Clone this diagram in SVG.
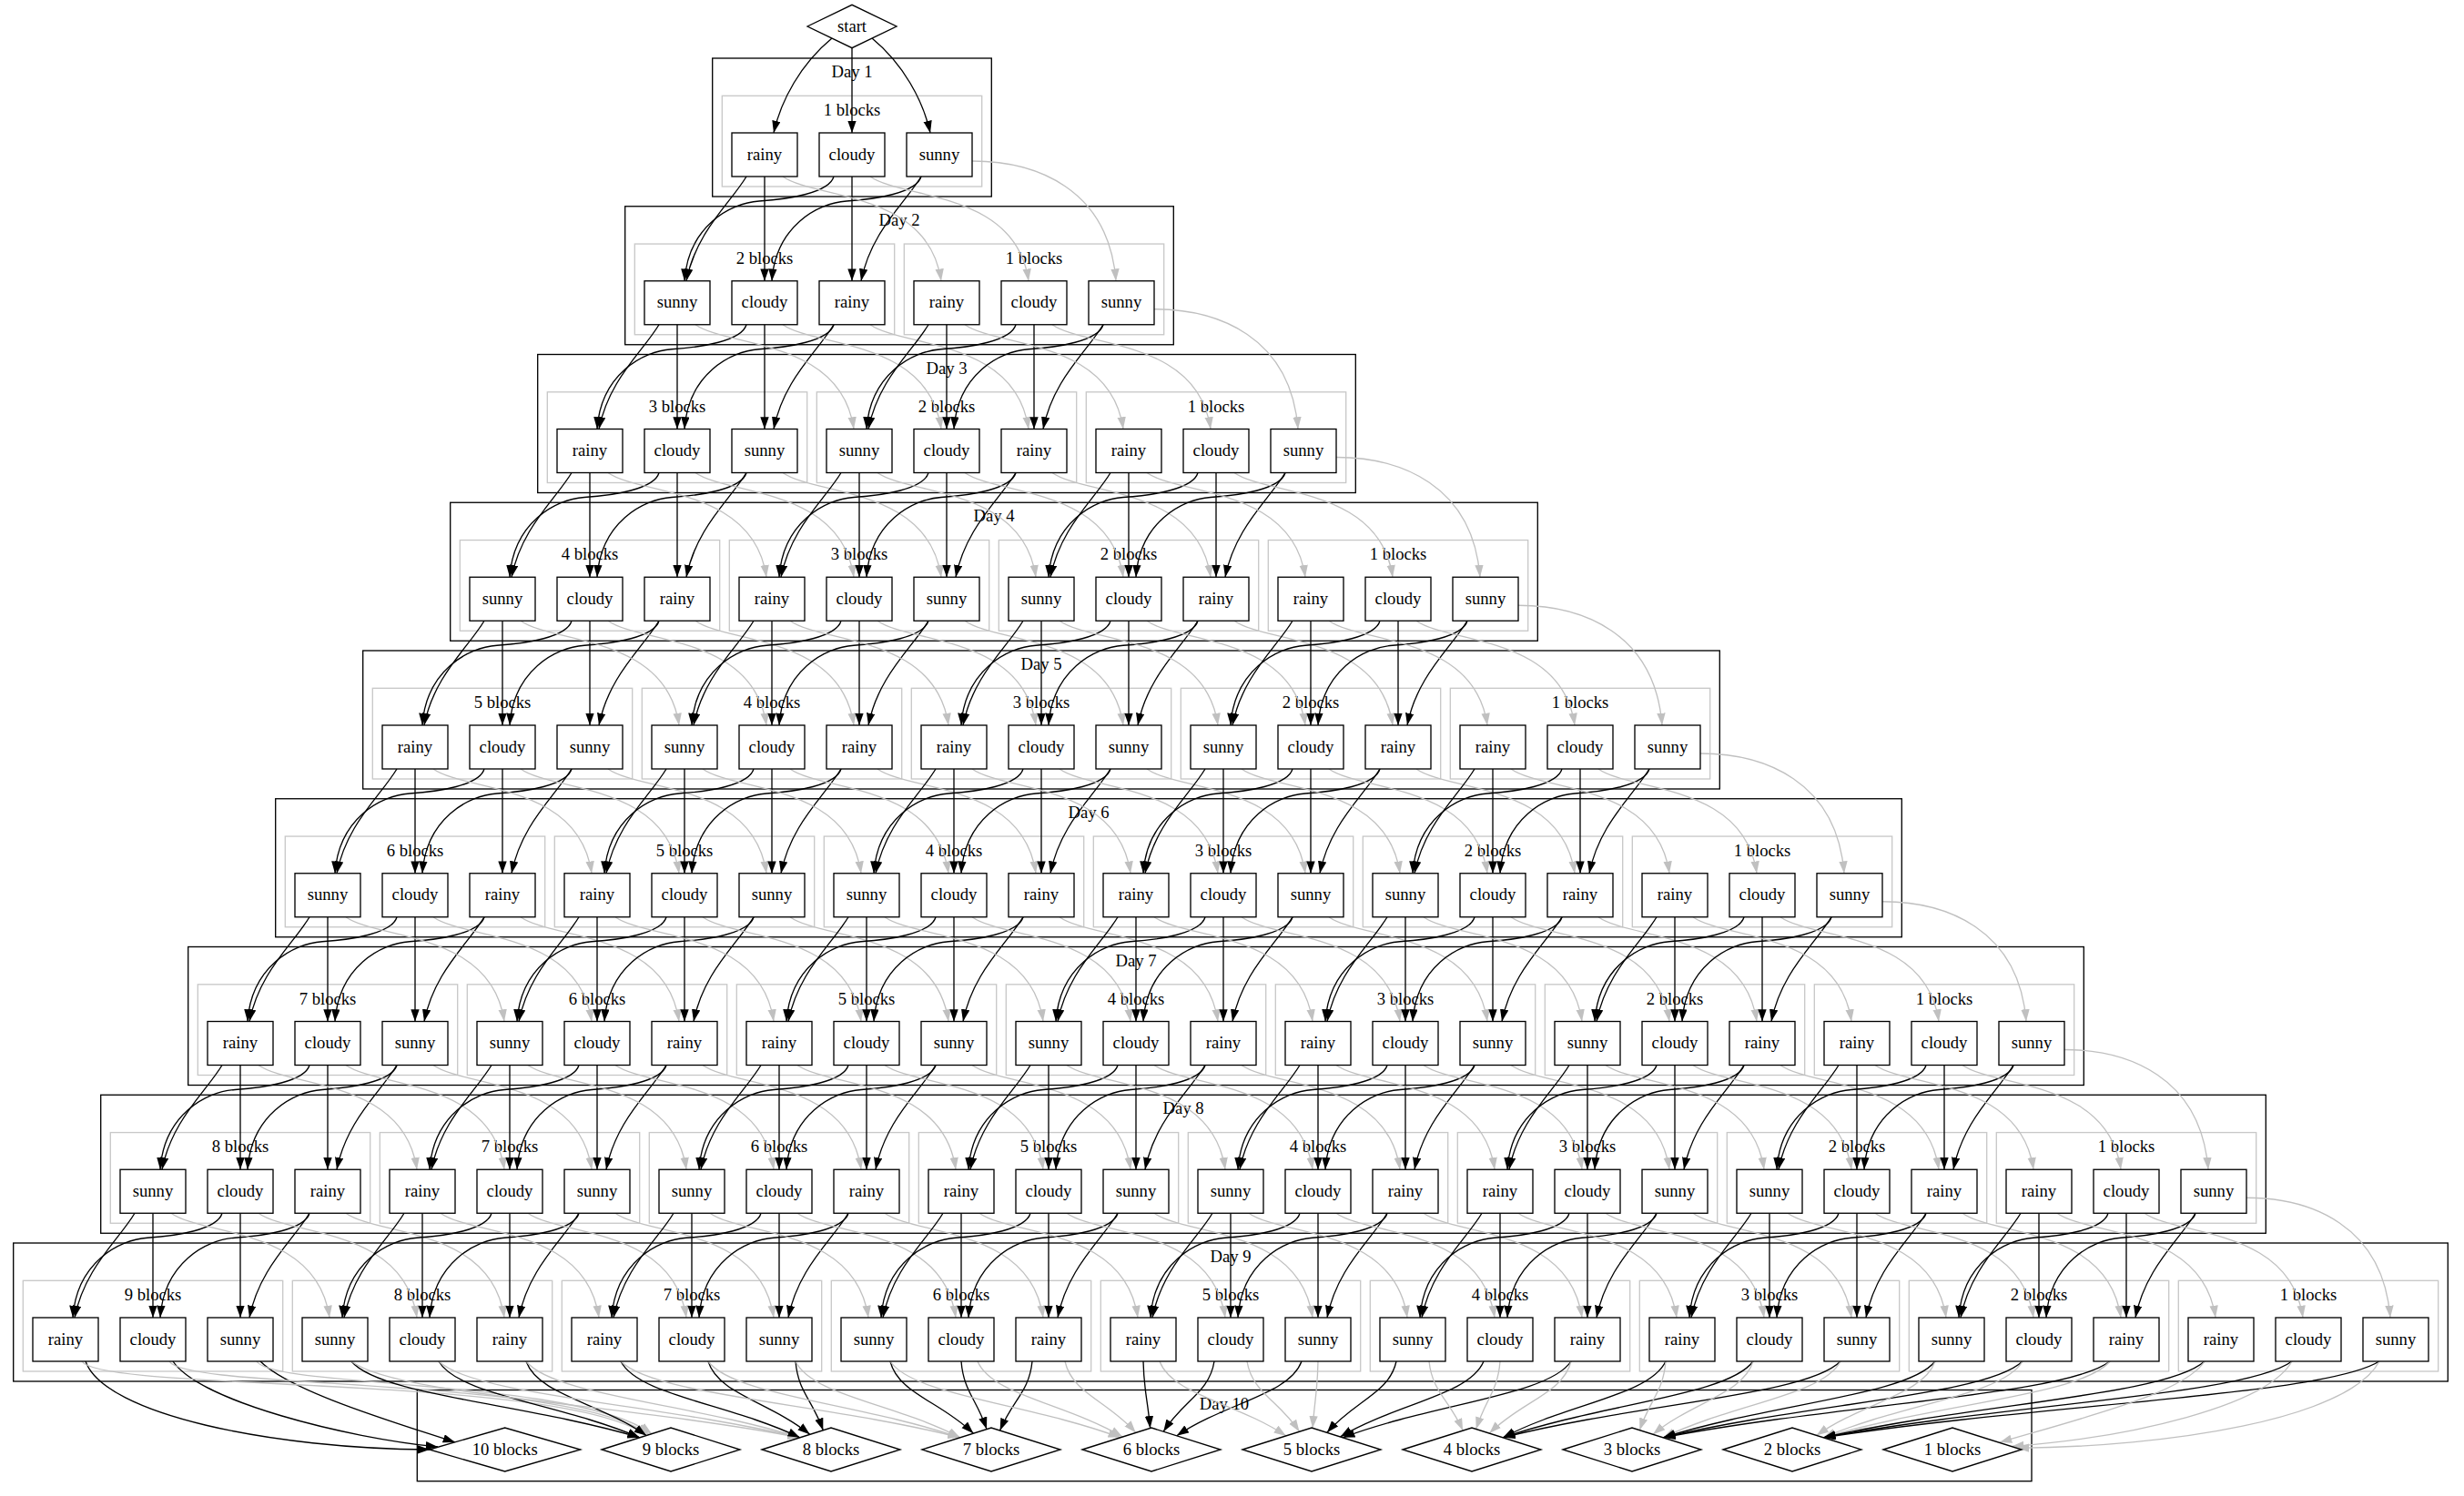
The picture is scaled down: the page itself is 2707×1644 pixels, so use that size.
<svg xmlns="http://www.w3.org/2000/svg" width="2707" height="1644" viewBox="0 0 2707 1644">
<defs>
<style>
.cl{fill:none;stroke:#000;stroke-width:1.33}
.sc{fill:none;stroke:#c8c8c8;stroke-width:1.33}
.nd rect,.nd polygon{fill:#fff;stroke:#000;stroke-width:1.33}
text{font-family:"Liberation Serif","Times New Roman",serif;font-size:18.67px;text-anchor:middle;fill:#000}
.b{fill:none;stroke:#000;stroke-width:1.33;marker-end:url(#ab)}
.g{fill:none;stroke:#c0c0c0;stroke-width:1.33;marker-end:url(#ag)}
</style>
<marker id="ab" markerUnits="userSpaceOnUse" markerWidth="15" markerHeight="11" refX="13.3" refY="4.7" orient="auto"><path d="M0,0L13.3,4.7L0,9.4z" fill="#000"/></marker>
<marker id="ag" markerUnits="userSpaceOnUse" markerWidth="15" markerHeight="11" refX="13.3" refY="4.7" orient="auto"><path d="M0,0L13.3,4.7L0,9.4z" fill="#c0c0c0"/></marker>
</defs>
<rect width="2707" height="1644" fill="#fff"/>
<g id="clusters">
<g id="day1"><rect class="cl" x="782.7" y="64" width="306.6" height="152"/><text x="936" y="85">Day 1</text>
<g id="d1-b1"><rect class="sc" x="793.3" y="105.3" width="285.4" height="99.7"/><text x="936" y="127">1 blocks</text></g></g>
<g id="day2"><rect class="cl" x="686.7" y="226.75" width="602.6" height="152"/><text x="988" y="247.75">Day 2</text>
<g id="d2-b2"><rect class="sc" x="697.3" y="268.05" width="285.4" height="99.7"/><text x="840" y="289.75">2 blocks</text></g>
<g id="d2-b1"><rect class="sc" x="993.3" y="268.05" width="285.4" height="99.7"/><text x="1136" y="289.75">1 blocks</text></g></g>
<g id="day3"><rect class="cl" x="590.7" y="389.5" width="898.6" height="152"/><text x="1040" y="410.5">Day 3</text>
<g id="d3-b3"><rect class="sc" x="601.3" y="430.8" width="285.4" height="99.7"/><text x="744" y="452.5">3 blocks</text></g>
<g id="d3-b2"><rect class="sc" x="897.3" y="430.8" width="285.4" height="99.7"/><text x="1040" y="452.5">2 blocks</text></g>
<g id="d3-b1"><rect class="sc" x="1193.3" y="430.8" width="285.4" height="99.7"/><text x="1336" y="452.5">1 blocks</text></g></g>
<g id="day4"><rect class="cl" x="494.7" y="552.25" width="1194.6" height="152"/><text x="1092" y="573.25">Day 4</text>
<g id="d4-b4"><rect class="sc" x="505.3" y="593.55" width="285.4" height="99.7"/><text x="648" y="615.25">4 blocks</text></g>
<g id="d4-b3"><rect class="sc" x="801.3" y="593.55" width="285.4" height="99.7"/><text x="944" y="615.25">3 blocks</text></g>
<g id="d4-b2"><rect class="sc" x="1097.3" y="593.55" width="285.4" height="99.7"/><text x="1240" y="615.25">2 blocks</text></g>
<g id="d4-b1"><rect class="sc" x="1393.3" y="593.55" width="285.4" height="99.7"/><text x="1536" y="615.25">1 blocks</text></g></g>
<g id="day5"><rect class="cl" x="398.7" y="715" width="1490.6" height="152"/><text x="1144" y="736">Day 5</text>
<g id="d5-b5"><rect class="sc" x="409.3" y="756.3" width="285.4" height="99.7"/><text x="552" y="778">5 blocks</text></g>
<g id="d5-b4"><rect class="sc" x="705.3" y="756.3" width="285.4" height="99.7"/><text x="848" y="778">4 blocks</text></g>
<g id="d5-b3"><rect class="sc" x="1001.3" y="756.3" width="285.4" height="99.7"/><text x="1144" y="778">3 blocks</text></g>
<g id="d5-b2"><rect class="sc" x="1297.3" y="756.3" width="285.4" height="99.7"/><text x="1440" y="778">2 blocks</text></g>
<g id="d5-b1"><rect class="sc" x="1593.3" y="756.3" width="285.4" height="99.7"/><text x="1736" y="778">1 blocks</text></g></g>
<g id="day6"><rect class="cl" x="302.7" y="877.75" width="1786.6" height="152"/><text x="1196" y="898.75">Day 6</text>
<g id="d6-b6"><rect class="sc" x="313.3" y="919.05" width="285.4" height="99.7"/><text x="456" y="940.75">6 blocks</text></g>
<g id="d6-b5"><rect class="sc" x="609.3" y="919.05" width="285.4" height="99.7"/><text x="752" y="940.75">5 blocks</text></g>
<g id="d6-b4"><rect class="sc" x="905.3" y="919.05" width="285.4" height="99.7"/><text x="1048" y="940.75">4 blocks</text></g>
<g id="d6-b3"><rect class="sc" x="1201.3" y="919.05" width="285.4" height="99.7"/><text x="1344" y="940.75">3 blocks</text></g>
<g id="d6-b2"><rect class="sc" x="1497.3" y="919.05" width="285.4" height="99.7"/><text x="1640" y="940.75">2 blocks</text></g>
<g id="d6-b1"><rect class="sc" x="1793.3" y="919.05" width="285.4" height="99.7"/><text x="1936" y="940.75">1 blocks</text></g></g>
<g id="day7"><rect class="cl" x="206.7" y="1040.5" width="2082.6" height="152"/><text x="1248" y="1061.5">Day 7</text>
<g id="d7-b7"><rect class="sc" x="217.3" y="1081.8" width="285.4" height="99.7"/><text x="360" y="1103.5">7 blocks</text></g>
<g id="d7-b6"><rect class="sc" x="513.3" y="1081.8" width="285.4" height="99.7"/><text x="656" y="1103.5">6 blocks</text></g>
<g id="d7-b5"><rect class="sc" x="809.3" y="1081.8" width="285.4" height="99.7"/><text x="952" y="1103.5">5 blocks</text></g>
<g id="d7-b4"><rect class="sc" x="1105.3" y="1081.8" width="285.4" height="99.7"/><text x="1248" y="1103.5">4 blocks</text></g>
<g id="d7-b3"><rect class="sc" x="1401.3" y="1081.8" width="285.4" height="99.7"/><text x="1544" y="1103.5">3 blocks</text></g>
<g id="d7-b2"><rect class="sc" x="1697.3" y="1081.8" width="285.4" height="99.7"/><text x="1840" y="1103.5">2 blocks</text></g>
<g id="d7-b1"><rect class="sc" x="1993.3" y="1081.8" width="285.4" height="99.7"/><text x="2136" y="1103.5">1 blocks</text></g></g>
<g id="day8"><rect class="cl" x="110.7" y="1203.25" width="2378.6" height="152"/><text x="1300" y="1224.25">Day 8</text>
<g id="d8-b8"><rect class="sc" x="121.3" y="1244.55" width="285.4" height="99.7"/><text x="264" y="1266.25">8 blocks</text></g>
<g id="d8-b7"><rect class="sc" x="417.3" y="1244.55" width="285.4" height="99.7"/><text x="560" y="1266.25">7 blocks</text></g>
<g id="d8-b6"><rect class="sc" x="713.3" y="1244.55" width="285.4" height="99.7"/><text x="856" y="1266.25">6 blocks</text></g>
<g id="d8-b5"><rect class="sc" x="1009.3" y="1244.55" width="285.4" height="99.7"/><text x="1152" y="1266.25">5 blocks</text></g>
<g id="d8-b4"><rect class="sc" x="1305.3" y="1244.55" width="285.4" height="99.7"/><text x="1448" y="1266.25">4 blocks</text></g>
<g id="d8-b3"><rect class="sc" x="1601.3" y="1244.55" width="285.4" height="99.7"/><text x="1744" y="1266.25">3 blocks</text></g>
<g id="d8-b2"><rect class="sc" x="1897.3" y="1244.55" width="285.4" height="99.7"/><text x="2040" y="1266.25">2 blocks</text></g>
<g id="d8-b1"><rect class="sc" x="2193.3" y="1244.55" width="285.4" height="99.7"/><text x="2336" y="1266.25">1 blocks</text></g></g>
<g id="day9"><rect class="cl" x="14.7" y="1366" width="2674.6" height="152"/><text x="1352" y="1387">Day 9</text>
<g id="d9-b9"><rect class="sc" x="25.3" y="1407.3" width="285.4" height="99.7"/><text x="168" y="1429">9 blocks</text></g>
<g id="d9-b8"><rect class="sc" x="321.3" y="1407.3" width="285.4" height="99.7"/><text x="464" y="1429">8 blocks</text></g>
<g id="d9-b7"><rect class="sc" x="617.3" y="1407.3" width="285.4" height="99.7"/><text x="760" y="1429">7 blocks</text></g>
<g id="d9-b6"><rect class="sc" x="913.3" y="1407.3" width="285.4" height="99.7"/><text x="1056" y="1429">6 blocks</text></g>
<g id="d9-b5"><rect class="sc" x="1209.3" y="1407.3" width="285.4" height="99.7"/><text x="1352" y="1429">5 blocks</text></g>
<g id="d9-b4"><rect class="sc" x="1505.3" y="1407.3" width="285.4" height="99.7"/><text x="1648" y="1429">4 blocks</text></g>
<g id="d9-b3"><rect class="sc" x="1801.3" y="1407.3" width="285.4" height="99.7"/><text x="1944" y="1429">3 blocks</text></g>
<g id="d9-b2"><rect class="sc" x="2097.3" y="1407.3" width="285.4" height="99.7"/><text x="2240" y="1429">2 blocks</text></g>
<g id="d9-b1"><rect class="sc" x="2393.3" y="1407.3" width="285.4" height="99.7"/><text x="2536" y="1429">1 blocks</text></g></g>
<g id="day10"><rect class="cl" x="458.3" y="1527.5" width="1773.7" height="100.2"/><text x="1345" y="1549">Day 10</text></g>
</g>
<g id="edges">
<path class="b" d="M914,42C880,70 858,110 850,146"/>
<path class="b" d="M936,52.7V146"/>
<path class="b" d="M958,42C992,70 1014,110 1022,146"/>
<!-- Day 1 -->
<path class="b" d="M840,194v114.75"/><path class="b" d="M820,194c-18,30 -55,60 -66,114.75"/><path class="b" d="M936,194v114.75"/><path class="b" d="M916,194c-5,18 -50,25 -82,27s-78,28 -82,87.75"/><path class="b" d="M1012,194c-18,30 -55,60 -66,114.75"/><path class="b" d="M1012,194c-5,18 -50,25 -82,27s-78,28 -82,87.75"/>
<path class="g" d="M860,194c35,25 160,15 174,114.75"/><path class="g" d="M956,194c35,25 160,15 174,114.75"/><path class="g" d="M1068,177c70,0 150,30 158,131.75"/>
<!-- Day 2 -->
<path class="b" d="M744,356.75v114.75"/><path class="b" d="M724,356.75c-18,30 -55,60 -66,114.75"/><path class="b" d="M840,356.75v114.75"/><path class="b" d="M820,356.75c-5,18 -50,25 -82,27s-78,28 -82,87.75"/><path class="b" d="M916,356.75c-18,30 -55,60 -66,114.75"/><path class="b" d="M916,356.75c-5,18 -50,25 -82,27s-78,28 -82,87.75"/>
<path class="g" d="M764,356.75c35,25 160,15 174,114.75"/><path class="g" d="M860,356.75c35,25 160,15 174,114.75"/><path class="g" d="M956,356.75c35,25 160,15 174,114.75"/>
<path class="b" d="M1040,356.75v114.75"/><path class="b" d="M1020,356.75c-18,30 -55,60 -66,114.75"/><path class="b" d="M1136,356.75v114.75"/><path class="b" d="M1116,356.75c-5,18 -50,25 -82,27s-78,28 -82,87.75"/><path class="b" d="M1212,356.75c-18,30 -55,60 -66,114.75"/><path class="b" d="M1212,356.75c-5,18 -50,25 -82,27s-78,28 -82,87.75"/>
<path class="g" d="M1060,356.75c35,25 160,15 174,114.75"/><path class="g" d="M1156,356.75c35,25 160,15 174,114.75"/><path class="g" d="M1268,339.75c70,0 150,30 158,131.75"/>
<!-- Day 3 -->
<path class="b" d="M648,519.5v114.75"/><path class="b" d="M628,519.5c-18,30 -55,60 -66,114.75"/><path class="b" d="M744,519.5v114.75"/><path class="b" d="M724,519.5c-5,18 -50,25 -82,27s-78,28 -82,87.75"/><path class="b" d="M820,519.5c-18,30 -55,60 -66,114.75"/><path class="b" d="M820,519.5c-5,18 -50,25 -82,27s-78,28 -82,87.75"/>
<path class="g" d="M668,519.5c35,25 160,15 174,114.75"/><path class="g" d="M764,519.5c35,25 160,15 174,114.75"/><path class="g" d="M860,519.5c35,25 160,15 174,114.75"/>
<path class="b" d="M944,519.5v114.75"/><path class="b" d="M924,519.5c-18,30 -55,60 -66,114.75"/><path class="b" d="M1040,519.5v114.75"/><path class="b" d="M1020,519.5c-5,18 -50,25 -82,27s-78,28 -82,87.75"/><path class="b" d="M1116,519.5c-18,30 -55,60 -66,114.75"/><path class="b" d="M1116,519.5c-5,18 -50,25 -82,27s-78,28 -82,87.75"/>
<path class="g" d="M964,519.5c35,25 160,15 174,114.75"/><path class="g" d="M1060,519.5c35,25 160,15 174,114.75"/><path class="g" d="M1156,519.5c35,25 160,15 174,114.75"/>
<path class="b" d="M1240,519.5v114.75"/><path class="b" d="M1220,519.5c-18,30 -55,60 -66,114.75"/><path class="b" d="M1336,519.5v114.75"/><path class="b" d="M1316,519.5c-5,18 -50,25 -82,27s-78,28 -82,87.75"/><path class="b" d="M1412,519.5c-18,30 -55,60 -66,114.75"/><path class="b" d="M1412,519.5c-5,18 -50,25 -82,27s-78,28 -82,87.75"/>
<path class="g" d="M1260,519.5c35,25 160,15 174,114.75"/><path class="g" d="M1356,519.5c35,25 160,15 174,114.75"/><path class="g" d="M1468,502.5c70,0 150,30 158,131.75"/>
<!-- Day 4 -->
<path class="b" d="M552,682.25v114.75"/><path class="b" d="M532,682.25c-18,30 -55,60 -66,114.75"/><path class="b" d="M648,682.25v114.75"/><path class="b" d="M628,682.25c-5,18 -50,25 -82,27s-78,28 -82,87.75"/><path class="b" d="M724,682.25c-18,30 -55,60 -66,114.75"/><path class="b" d="M724,682.25c-5,18 -50,25 -82,27s-78,28 -82,87.75"/>
<path class="g" d="M572,682.25c35,25 160,15 174,114.75"/><path class="g" d="M668,682.25c35,25 160,15 174,114.75"/><path class="g" d="M764,682.25c35,25 160,15 174,114.75"/>
<path class="b" d="M848,682.25v114.75"/><path class="b" d="M828,682.25c-18,30 -55,60 -66,114.75"/><path class="b" d="M944,682.25v114.75"/><path class="b" d="M924,682.25c-5,18 -50,25 -82,27s-78,28 -82,87.75"/><path class="b" d="M1020,682.25c-18,30 -55,60 -66,114.75"/><path class="b" d="M1020,682.25c-5,18 -50,25 -82,27s-78,28 -82,87.75"/>
<path class="g" d="M868,682.25c35,25 160,15 174,114.75"/><path class="g" d="M964,682.25c35,25 160,15 174,114.75"/><path class="g" d="M1060,682.25c35,25 160,15 174,114.75"/>
<path class="b" d="M1144,682.25v114.75"/><path class="b" d="M1124,682.25c-18,30 -55,60 -66,114.75"/><path class="b" d="M1240,682.25v114.75"/><path class="b" d="M1220,682.25c-5,18 -50,25 -82,27s-78,28 -82,87.75"/><path class="b" d="M1316,682.25c-18,30 -55,60 -66,114.75"/><path class="b" d="M1316,682.25c-5,18 -50,25 -82,27s-78,28 -82,87.75"/>
<path class="g" d="M1164,682.25c35,25 160,15 174,114.75"/><path class="g" d="M1260,682.25c35,25 160,15 174,114.75"/><path class="g" d="M1356,682.25c35,25 160,15 174,114.75"/>
<path class="b" d="M1440,682.25v114.75"/><path class="b" d="M1420,682.25c-18,30 -55,60 -66,114.75"/><path class="b" d="M1536,682.25v114.75"/><path class="b" d="M1516,682.25c-5,18 -50,25 -82,27s-78,28 -82,87.75"/><path class="b" d="M1612,682.25c-18,30 -55,60 -66,114.75"/><path class="b" d="M1612,682.25c-5,18 -50,25 -82,27s-78,28 -82,87.75"/>
<path class="g" d="M1460,682.25c35,25 160,15 174,114.75"/><path class="g" d="M1556,682.25c35,25 160,15 174,114.75"/><path class="g" d="M1668,665.25c70,0 150,30 158,131.75"/>
<!-- Day 5 -->
<path class="b" d="M456,845v114.75"/><path class="b" d="M436,845c-18,30 -55,60 -66,114.75"/><path class="b" d="M552,845v114.75"/><path class="b" d="M532,845c-5,18 -50,25 -82,27s-78,28 -82,87.75"/><path class="b" d="M628,845c-18,30 -55,60 -66,114.75"/><path class="b" d="M628,845c-5,18 -50,25 -82,27s-78,28 -82,87.75"/>
<path class="g" d="M476,845c35,25 160,15 174,114.75"/><path class="g" d="M572,845c35,25 160,15 174,114.75"/><path class="g" d="M668,845c35,25 160,15 174,114.75"/>
<path class="b" d="M752,845v114.75"/><path class="b" d="M732,845c-18,30 -55,60 -66,114.75"/><path class="b" d="M848,845v114.75"/><path class="b" d="M828,845c-5,18 -50,25 -82,27s-78,28 -82,87.75"/><path class="b" d="M924,845c-18,30 -55,60 -66,114.75"/><path class="b" d="M924,845c-5,18 -50,25 -82,27s-78,28 -82,87.75"/>
<path class="g" d="M772,845c35,25 160,15 174,114.75"/><path class="g" d="M868,845c35,25 160,15 174,114.75"/><path class="g" d="M964,845c35,25 160,15 174,114.75"/>
<path class="b" d="M1048,845v114.75"/><path class="b" d="M1028,845c-18,30 -55,60 -66,114.75"/><path class="b" d="M1144,845v114.75"/><path class="b" d="M1124,845c-5,18 -50,25 -82,27s-78,28 -82,87.75"/><path class="b" d="M1220,845c-18,30 -55,60 -66,114.75"/><path class="b" d="M1220,845c-5,18 -50,25 -82,27s-78,28 -82,87.75"/>
<path class="g" d="M1068,845c35,25 160,15 174,114.75"/><path class="g" d="M1164,845c35,25 160,15 174,114.75"/><path class="g" d="M1260,845c35,25 160,15 174,114.75"/>
<path class="b" d="M1344,845v114.75"/><path class="b" d="M1324,845c-18,30 -55,60 -66,114.75"/><path class="b" d="M1440,845v114.75"/><path class="b" d="M1420,845c-5,18 -50,25 -82,27s-78,28 -82,87.75"/><path class="b" d="M1516,845c-18,30 -55,60 -66,114.75"/><path class="b" d="M1516,845c-5,18 -50,25 -82,27s-78,28 -82,87.75"/>
<path class="g" d="M1364,845c35,25 160,15 174,114.75"/><path class="g" d="M1460,845c35,25 160,15 174,114.75"/><path class="g" d="M1556,845c35,25 160,15 174,114.75"/>
<path class="b" d="M1640,845v114.75"/><path class="b" d="M1620,845c-18,30 -55,60 -66,114.75"/><path class="b" d="M1736,845v114.75"/><path class="b" d="M1716,845c-5,18 -50,25 -82,27s-78,28 -82,87.75"/><path class="b" d="M1812,845c-18,30 -55,60 -66,114.75"/><path class="b" d="M1812,845c-5,18 -50,25 -82,27s-78,28 -82,87.75"/>
<path class="g" d="M1660,845c35,25 160,15 174,114.75"/><path class="g" d="M1756,845c35,25 160,15 174,114.75"/><path class="g" d="M1868,828c70,0 150,30 158,131.75"/>
<!-- Day 6 -->
<path class="b" d="M360,1007.75v114.75"/><path class="b" d="M340,1007.75c-18,30 -55,60 -66,114.75"/><path class="b" d="M456,1007.75v114.75"/><path class="b" d="M436,1007.75c-5,18 -50,25 -82,27s-78,28 -82,87.75"/><path class="b" d="M532,1007.75c-18,30 -55,60 -66,114.75"/><path class="b" d="M532,1007.75c-5,18 -50,25 -82,27s-78,28 -82,87.75"/>
<path class="g" d="M380,1007.75c35,25 160,15 174,114.75"/><path class="g" d="M476,1007.75c35,25 160,15 174,114.75"/><path class="g" d="M572,1007.75c35,25 160,15 174,114.75"/>
<path class="b" d="M656,1007.75v114.75"/><path class="b" d="M636,1007.75c-18,30 -55,60 -66,114.75"/><path class="b" d="M752,1007.75v114.75"/><path class="b" d="M732,1007.75c-5,18 -50,25 -82,27s-78,28 -82,87.75"/><path class="b" d="M828,1007.75c-18,30 -55,60 -66,114.75"/><path class="b" d="M828,1007.75c-5,18 -50,25 -82,27s-78,28 -82,87.75"/>
<path class="g" d="M676,1007.75c35,25 160,15 174,114.75"/><path class="g" d="M772,1007.75c35,25 160,15 174,114.75"/><path class="g" d="M868,1007.75c35,25 160,15 174,114.75"/>
<path class="b" d="M952,1007.75v114.75"/><path class="b" d="M932,1007.75c-18,30 -55,60 -66,114.75"/><path class="b" d="M1048,1007.75v114.75"/><path class="b" d="M1028,1007.75c-5,18 -50,25 -82,27s-78,28 -82,87.75"/><path class="b" d="M1124,1007.75c-18,30 -55,60 -66,114.75"/><path class="b" d="M1124,1007.75c-5,18 -50,25 -82,27s-78,28 -82,87.75"/>
<path class="g" d="M972,1007.75c35,25 160,15 174,114.75"/><path class="g" d="M1068,1007.75c35,25 160,15 174,114.75"/><path class="g" d="M1164,1007.75c35,25 160,15 174,114.75"/>
<path class="b" d="M1248,1007.75v114.75"/><path class="b" d="M1228,1007.75c-18,30 -55,60 -66,114.75"/><path class="b" d="M1344,1007.75v114.75"/><path class="b" d="M1324,1007.75c-5,18 -50,25 -82,27s-78,28 -82,87.75"/><path class="b" d="M1420,1007.75c-18,30 -55,60 -66,114.75"/><path class="b" d="M1420,1007.75c-5,18 -50,25 -82,27s-78,28 -82,87.75"/>
<path class="g" d="M1268,1007.75c35,25 160,15 174,114.75"/><path class="g" d="M1364,1007.75c35,25 160,15 174,114.75"/><path class="g" d="M1460,1007.75c35,25 160,15 174,114.75"/>
<path class="b" d="M1544,1007.75v114.75"/><path class="b" d="M1524,1007.75c-18,30 -55,60 -66,114.75"/><path class="b" d="M1640,1007.75v114.75"/><path class="b" d="M1620,1007.75c-5,18 -50,25 -82,27s-78,28 -82,87.75"/><path class="b" d="M1716,1007.75c-18,30 -55,60 -66,114.75"/><path class="b" d="M1716,1007.75c-5,18 -50,25 -82,27s-78,28 -82,87.75"/>
<path class="g" d="M1564,1007.75c35,25 160,15 174,114.75"/><path class="g" d="M1660,1007.75c35,25 160,15 174,114.75"/><path class="g" d="M1756,1007.75c35,25 160,15 174,114.75"/>
<path class="b" d="M1840,1007.75v114.75"/><path class="b" d="M1820,1007.75c-18,30 -55,60 -66,114.75"/><path class="b" d="M1936,1007.75v114.75"/><path class="b" d="M1916,1007.75c-5,18 -50,25 -82,27s-78,28 -82,87.75"/><path class="b" d="M2012,1007.75c-18,30 -55,60 -66,114.75"/><path class="b" d="M2012,1007.75c-5,18 -50,25 -82,27s-78,28 -82,87.75"/>
<path class="g" d="M1860,1007.75c35,25 160,15 174,114.75"/><path class="g" d="M1956,1007.75c35,25 160,15 174,114.75"/><path class="g" d="M2068,990.75c70,0 150,30 158,131.75"/>
<!-- Day 7 -->
<path class="b" d="M264,1170.5v114.75"/><path class="b" d="M244,1170.5c-18,30 -55,60 -66,114.75"/><path class="b" d="M360,1170.5v114.75"/><path class="b" d="M340,1170.5c-5,18 -50,25 -82,27s-78,28 -82,87.75"/><path class="b" d="M436,1170.5c-18,30 -55,60 -66,114.75"/><path class="b" d="M436,1170.5c-5,18 -50,25 -82,27s-78,28 -82,87.75"/>
<path class="g" d="M284,1170.5c35,25 160,15 174,114.75"/><path class="g" d="M380,1170.5c35,25 160,15 174,114.75"/><path class="g" d="M476,1170.5c35,25 160,15 174,114.75"/>
<path class="b" d="M560,1170.5v114.75"/><path class="b" d="M540,1170.5c-18,30 -55,60 -66,114.75"/><path class="b" d="M656,1170.5v114.75"/><path class="b" d="M636,1170.5c-5,18 -50,25 -82,27s-78,28 -82,87.75"/><path class="b" d="M732,1170.5c-18,30 -55,60 -66,114.75"/><path class="b" d="M732,1170.5c-5,18 -50,25 -82,27s-78,28 -82,87.75"/>
<path class="g" d="M580,1170.5c35,25 160,15 174,114.75"/><path class="g" d="M676,1170.5c35,25 160,15 174,114.75"/><path class="g" d="M772,1170.5c35,25 160,15 174,114.75"/>
<path class="b" d="M856,1170.5v114.75"/><path class="b" d="M836,1170.5c-18,30 -55,60 -66,114.75"/><path class="b" d="M952,1170.5v114.75"/><path class="b" d="M932,1170.5c-5,18 -50,25 -82,27s-78,28 -82,87.75"/><path class="b" d="M1028,1170.5c-18,30 -55,60 -66,114.75"/><path class="b" d="M1028,1170.5c-5,18 -50,25 -82,27s-78,28 -82,87.75"/>
<path class="g" d="M876,1170.5c35,25 160,15 174,114.75"/><path class="g" d="M972,1170.5c35,25 160,15 174,114.75"/><path class="g" d="M1068,1170.5c35,25 160,15 174,114.75"/>
<path class="b" d="M1152,1170.5v114.75"/><path class="b" d="M1132,1170.5c-18,30 -55,60 -66,114.75"/><path class="b" d="M1248,1170.5v114.75"/><path class="b" d="M1228,1170.5c-5,18 -50,25 -82,27s-78,28 -82,87.75"/><path class="b" d="M1324,1170.5c-18,30 -55,60 -66,114.75"/><path class="b" d="M1324,1170.5c-5,18 -50,25 -82,27s-78,28 -82,87.75"/>
<path class="g" d="M1172,1170.5c35,25 160,15 174,114.75"/><path class="g" d="M1268,1170.5c35,25 160,15 174,114.75"/><path class="g" d="M1364,1170.5c35,25 160,15 174,114.75"/>
<path class="b" d="M1448,1170.5v114.75"/><path class="b" d="M1428,1170.5c-18,30 -55,60 -66,114.75"/><path class="b" d="M1544,1170.5v114.75"/><path class="b" d="M1524,1170.5c-5,18 -50,25 -82,27s-78,28 -82,87.75"/><path class="b" d="M1620,1170.5c-18,30 -55,60 -66,114.75"/><path class="b" d="M1620,1170.5c-5,18 -50,25 -82,27s-78,28 -82,87.75"/>
<path class="g" d="M1468,1170.5c35,25 160,15 174,114.75"/><path class="g" d="M1564,1170.5c35,25 160,15 174,114.75"/><path class="g" d="M1660,1170.5c35,25 160,15 174,114.75"/>
<path class="b" d="M1744,1170.5v114.75"/><path class="b" d="M1724,1170.5c-18,30 -55,60 -66,114.75"/><path class="b" d="M1840,1170.5v114.75"/><path class="b" d="M1820,1170.5c-5,18 -50,25 -82,27s-78,28 -82,87.75"/><path class="b" d="M1916,1170.5c-18,30 -55,60 -66,114.75"/><path class="b" d="M1916,1170.5c-5,18 -50,25 -82,27s-78,28 -82,87.75"/>
<path class="g" d="M1764,1170.5c35,25 160,15 174,114.75"/><path class="g" d="M1860,1170.5c35,25 160,15 174,114.75"/><path class="g" d="M1956,1170.5c35,25 160,15 174,114.75"/>
<path class="b" d="M2040,1170.5v114.75"/><path class="b" d="M2020,1170.5c-18,30 -55,60 -66,114.75"/><path class="b" d="M2136,1170.5v114.75"/><path class="b" d="M2116,1170.5c-5,18 -50,25 -82,27s-78,28 -82,87.75"/><path class="b" d="M2212,1170.5c-18,30 -55,60 -66,114.75"/><path class="b" d="M2212,1170.5c-5,18 -50,25 -82,27s-78,28 -82,87.75"/>
<path class="g" d="M2060,1170.5c35,25 160,15 174,114.75"/><path class="g" d="M2156,1170.5c35,25 160,15 174,114.75"/><path class="g" d="M2268,1153.5c70,0 150,30 158,131.75"/>
<!-- Day 8 -->
<path class="b" d="M168,1333.25v114.75"/><path class="b" d="M148,1333.25c-18,30 -55,60 -66,114.75"/><path class="b" d="M264,1333.25v114.75"/><path class="b" d="M244,1333.25c-5,18 -50,25 -82,27s-78,28 -82,87.75"/><path class="b" d="M340,1333.25c-18,30 -55,60 -66,114.75"/><path class="b" d="M340,1333.25c-5,18 -50,25 -82,27s-78,28 -82,87.75"/>
<path class="g" d="M188,1333.25c35,25 160,15 174,114.75"/><path class="g" d="M284,1333.25c35,25 160,15 174,114.75"/><path class="g" d="M380,1333.25c35,25 160,15 174,114.75"/>
<path class="b" d="M464,1333.25v114.75"/><path class="b" d="M444,1333.25c-18,30 -55,60 -66,114.75"/><path class="b" d="M560,1333.25v114.75"/><path class="b" d="M540,1333.25c-5,18 -50,25 -82,27s-78,28 -82,87.75"/><path class="b" d="M636,1333.25c-18,30 -55,60 -66,114.75"/><path class="b" d="M636,1333.25c-5,18 -50,25 -82,27s-78,28 -82,87.75"/>
<path class="g" d="M484,1333.25c35,25 160,15 174,114.75"/><path class="g" d="M580,1333.25c35,25 160,15 174,114.75"/><path class="g" d="M676,1333.25c35,25 160,15 174,114.75"/>
<path class="b" d="M760,1333.25v114.75"/><path class="b" d="M740,1333.25c-18,30 -55,60 -66,114.75"/><path class="b" d="M856,1333.25v114.75"/><path class="b" d="M836,1333.25c-5,18 -50,25 -82,27s-78,28 -82,87.75"/><path class="b" d="M932,1333.25c-18,30 -55,60 -66,114.75"/><path class="b" d="M932,1333.25c-5,18 -50,25 -82,27s-78,28 -82,87.75"/>
<path class="g" d="M780,1333.25c35,25 160,15 174,114.75"/><path class="g" d="M876,1333.25c35,25 160,15 174,114.75"/><path class="g" d="M972,1333.25c35,25 160,15 174,114.75"/>
<path class="b" d="M1056,1333.25v114.75"/><path class="b" d="M1036,1333.25c-18,30 -55,60 -66,114.75"/><path class="b" d="M1152,1333.25v114.75"/><path class="b" d="M1132,1333.25c-5,18 -50,25 -82,27s-78,28 -82,87.75"/><path class="b" d="M1228,1333.25c-18,30 -55,60 -66,114.75"/><path class="b" d="M1228,1333.25c-5,18 -50,25 -82,27s-78,28 -82,87.75"/>
<path class="g" d="M1076,1333.25c35,25 160,15 174,114.75"/><path class="g" d="M1172,1333.25c35,25 160,15 174,114.75"/><path class="g" d="M1268,1333.25c35,25 160,15 174,114.75"/>
<path class="b" d="M1352,1333.25v114.75"/><path class="b" d="M1332,1333.25c-18,30 -55,60 -66,114.75"/><path class="b" d="M1448,1333.25v114.75"/><path class="b" d="M1428,1333.25c-5,18 -50,25 -82,27s-78,28 -82,87.75"/><path class="b" d="M1524,1333.25c-18,30 -55,60 -66,114.75"/><path class="b" d="M1524,1333.25c-5,18 -50,25 -82,27s-78,28 -82,87.75"/>
<path class="g" d="M1372,1333.25c35,25 160,15 174,114.75"/><path class="g" d="M1468,1333.25c35,25 160,15 174,114.75"/><path class="g" d="M1564,1333.25c35,25 160,15 174,114.75"/>
<path class="b" d="M1648,1333.25v114.75"/><path class="b" d="M1628,1333.25c-18,30 -55,60 -66,114.75"/><path class="b" d="M1744,1333.25v114.75"/><path class="b" d="M1724,1333.25c-5,18 -50,25 -82,27s-78,28 -82,87.75"/><path class="b" d="M1820,1333.25c-18,30 -55,60 -66,114.75"/><path class="b" d="M1820,1333.25c-5,18 -50,25 -82,27s-78,28 -82,87.75"/>
<path class="g" d="M1668,1333.25c35,25 160,15 174,114.75"/><path class="g" d="M1764,1333.25c35,25 160,15 174,114.75"/><path class="g" d="M1860,1333.25c35,25 160,15 174,114.75"/>
<path class="b" d="M1944,1333.25v114.75"/><path class="b" d="M1924,1333.25c-18,30 -55,60 -66,114.75"/><path class="b" d="M2040,1333.25v114.75"/><path class="b" d="M2020,1333.25c-5,18 -50,25 -82,27s-78,28 -82,87.75"/><path class="b" d="M2116,1333.25c-18,30 -55,60 -66,114.75"/><path class="b" d="M2116,1333.25c-5,18 -50,25 -82,27s-78,28 -82,87.75"/>
<path class="g" d="M1964,1333.25c35,25 160,15 174,114.75"/><path class="g" d="M2060,1333.25c35,25 160,15 174,114.75"/><path class="g" d="M2156,1333.25c35,25 160,15 174,114.75"/>
<path class="b" d="M2240,1333.25v114.75"/><path class="b" d="M2220,1333.25c-18,30 -55,60 -66,114.75"/><path class="b" d="M2336,1333.25v114.75"/><path class="b" d="M2316,1333.25c-5,18 -50,25 -82,27s-78,28 -82,87.75"/><path class="b" d="M2412,1333.25c-18,30 -55,60 -66,114.75"/><path class="b" d="M2412,1333.25c-5,18 -50,25 -82,27s-78,28 -82,87.75"/>
<path class="g" d="M2260,1333.25c35,25 160,15 174,114.75"/><path class="g" d="M2356,1333.25c35,25 160,15 174,114.75"/><path class="g" d="M2468,1316.25c70,0 150,30 158,131.75"/>
<!-- Day 9 to Day 10 -->
<path class="b" d="M94,1496C115,1555 300,1592 472,1593"/>
<path class="b" d="M190,1496C220,1540 380,1580 481,1590"/>
<path class="b" d="M286,1496C320,1530 440,1565 500,1585"/>
<path class="g" d="M90,1496C110,1530 620,1510 710,1577.5"/>
<path class="g" d="M186,1496C205,1528 625,1512 713,1576.6"/>
<path class="g" d="M282,1496C300,1526 630,1514 716,1575.6"/>
<path class="b" d="M386,1496C417.7,1533.7 576.1,1542.1 702.8,1579.8"/>
<path class="b" d="M482,1496C504.1,1533.7 614.5,1542.1 702.8,1579.8"/>
<path class="b" d="M578,1496C591.2,1532.7 657.3,1540.8 710.1,1577.5"/>
<path class="g" d="M386,1496C435.3,1533.7 681.7,1542.1 878.8,1579.8"/>
<path class="g" d="M482,1496C521.7,1533.7 720.1,1542.1 878.8,1579.8"/>
<path class="g" d="M578,1496C608.1,1533.7 758.5,1542.1 878.8,1579.8"/>
<path class="b" d="M682,1496C701.7,1533.7 800.1,1542.1 878.8,1579.8"/>
<path class="b" d="M778,1496C789.2,1532.1 845,1540.2 889.7,1576.3"/>
<path class="b" d="M874,1496C877,1530.1 892.2,1537.6 904.3,1571.7"/>
<path class="g" d="M682,1496C719.3,1533.7 905.7,1542.1 1054.8,1579.8"/>
<path class="g" d="M778,1496C805.7,1533.7 944.1,1542.1 1054.8,1579.8"/>
<path class="g" d="M874,1496C892.1,1533.7 982.5,1542.1 1054.8,1579.8"/>
<path class="b" d="M978,1496C987.1,1531.6 1032.8,1539.6 1069.4,1575.2"/>
<path class="b" d="M1056,1496C1058.8,1529.6 1072.8,1537 1084,1570.6"/>
<path class="b" d="M1134,1496C1130.5,1530.2 1112.8,1537.8 1098.6,1572"/>
<path class="g" d="M978,1496C1003.3,1533.7 1129.7,1542.1 1230.8,1579.8"/>
<path class="g" d="M1074,1496C1089.9,1533.4 1169.5,1541.6 1233.2,1579"/>
<path class="g" d="M1170,1496C1177.8,1531.3 1216.7,1539.1 1247.8,1574.4"/>
<path class="b" d="M1256,1496C1256.8,1529 1260.6,1536.4 1263.6,1569.4"/>
<path class="b" d="M1334,1496C1328.4,1530.7 1300.5,1538.5 1278.2,1573.2"/>
<path class="b" d="M1430,1496C1416.3,1532.8 1347.7,1541 1292.8,1577.8"/>
<path class="g" d="M1274,1496C1287.9,1532.9 1357.3,1541 1412.9,1577.9"/>
<path class="g" d="M1370,1496C1375.8,1530.8 1404.5,1538.5 1427.5,1573.3"/>
<path class="g" d="M1448,1496C1447.4,1529 1444.5,1536.3 1442.1,1569.3"/>
<path class="b" d="M1534,1496C1526.4,1531.2 1488.3,1539.1 1457.9,1574.3"/>
<path class="b" d="M1630,1496C1614.3,1533.3 1535.5,1541.6 1472.5,1578.9"/>
<path class="b" d="M1726,1496C1700.9,1533.7 1575.5,1542.1 1475.2,1579.8"/>
<path class="g" d="M1570,1496C1573.7,1530.2 1592.3,1537.9 1607.1,1572.1"/>
<path class="g" d="M1648,1496C1645.4,1529.5 1632.2,1537 1621.7,1570.5"/>
<path class="g" d="M1726,1496C1717,1531.6 1672.2,1539.5 1636.3,1575.1"/>
<path class="b" d="M1830,1496C1812.1,1533.7 1722.7,1542.1 1651.2,1579.8"/>
<path class="b" d="M1926,1496C1898.5,1533.7 1761.1,1542.1 1651.2,1579.8"/>
<path class="b" d="M2022,1496C1984.9,1533.7 1799.5,1542.1 1651.2,1579.8"/>
<path class="g" d="M1830,1496C1827.1,1530 1812.8,1537.6 1801.4,1571.6"/>
<path class="g" d="M1926,1496C1915,1532.1 1860,1540.1 1816,1576.2"/>
<path class="g" d="M2022,1496C2002.5,1533.7 1905.1,1542.1 1827.2,1579.8"/>
<path class="b" d="M2126,1496C2096.1,1533.7 1946.7,1542.1 1827.2,1579.8"/>
<path class="b" d="M2222,1496C2182.5,1533.7 1985.1,1542.1 1827.2,1579.8"/>
<path class="b" d="M2318,1496C2268.9,1533.7 2023.5,1542.1 1827.2,1579.8"/>
<path class="g" d="M2126,1496C2113,1532.6 2047.8,1540.8 1995.6,1577.4"/>
<path class="g" d="M2222,1496C2200.1,1533.7 2090.7,1542.1 2003.2,1579.8"/>
<path class="g" d="M2318,1496C2286.5,1533.7 2129.1,1542.1 2003.2,1579.8"/>
<path class="b" d="M2422,1496C2380.1,1533.7 2170.7,1542.1 2003.2,1579.8"/>
<path class="b" d="M2518,1496C2466.5,1533.7 2209.1,1542.1 2003.2,1579.8"/>
<path class="b" d="M2614,1496C2552.9,1533.7 2247.5,1542.1 2003.2,1579.8"/>
<path class="g" d="M2422,1496C2400,1530 2300,1555 2197,1585"/>
<path class="g" d="M2518,1496C2490,1545 2340,1580 2210,1589.4"/>
<path class="g" d="M2614,1496C2580,1560 2380,1590 2216,1591.3"/>
</g>
<g id="nodes">
<g id="start" class="nd"><polygon points="887,29 936,5.3 985,29 936,52.7"/><text x="936" y="34.5">start</text></g>
<g id="d1b1-rainy" class="nd"><rect x="804" y="146" width="72" height="48"/><text x="840" y="175.5">rainy</text></g>
<g id="d1b1-cloudy" class="nd"><rect x="900" y="146" width="72" height="48"/><text x="936" y="175.5">cloudy</text></g>
<g id="d1b1-sunny" class="nd"><rect x="996" y="146" width="72" height="48"/><text x="1032" y="175.5">sunny</text></g>
<g id="d2b2-sunny" class="nd"><rect x="708" y="308.75" width="72" height="48"/><text x="744" y="338.25">sunny</text></g>
<g id="d2b2-cloudy" class="nd"><rect x="804" y="308.75" width="72" height="48"/><text x="840" y="338.25">cloudy</text></g>
<g id="d2b2-rainy" class="nd"><rect x="900" y="308.75" width="72" height="48"/><text x="936" y="338.25">rainy</text></g>
<g id="d2b1-rainy" class="nd"><rect x="1004" y="308.75" width="72" height="48"/><text x="1040" y="338.25">rainy</text></g>
<g id="d2b1-cloudy" class="nd"><rect x="1100" y="308.75" width="72" height="48"/><text x="1136" y="338.25">cloudy</text></g>
<g id="d2b1-sunny" class="nd"><rect x="1196" y="308.75" width="72" height="48"/><text x="1232" y="338.25">sunny</text></g>
<g id="d3b3-rainy" class="nd"><rect x="612" y="471.5" width="72" height="48"/><text x="648" y="501">rainy</text></g>
<g id="d3b3-cloudy" class="nd"><rect x="708" y="471.5" width="72" height="48"/><text x="744" y="501">cloudy</text></g>
<g id="d3b3-sunny" class="nd"><rect x="804" y="471.5" width="72" height="48"/><text x="840" y="501">sunny</text></g>
<g id="d3b2-sunny" class="nd"><rect x="908" y="471.5" width="72" height="48"/><text x="944" y="501">sunny</text></g>
<g id="d3b2-cloudy" class="nd"><rect x="1004" y="471.5" width="72" height="48"/><text x="1040" y="501">cloudy</text></g>
<g id="d3b2-rainy" class="nd"><rect x="1100" y="471.5" width="72" height="48"/><text x="1136" y="501">rainy</text></g>
<g id="d3b1-rainy" class="nd"><rect x="1204" y="471.5" width="72" height="48"/><text x="1240" y="501">rainy</text></g>
<g id="d3b1-cloudy" class="nd"><rect x="1300" y="471.5" width="72" height="48"/><text x="1336" y="501">cloudy</text></g>
<g id="d3b1-sunny" class="nd"><rect x="1396" y="471.5" width="72" height="48"/><text x="1432" y="501">sunny</text></g>
<g id="d4b4-sunny" class="nd"><rect x="516" y="634.25" width="72" height="48"/><text x="552" y="663.75">sunny</text></g>
<g id="d4b4-cloudy" class="nd"><rect x="612" y="634.25" width="72" height="48"/><text x="648" y="663.75">cloudy</text></g>
<g id="d4b4-rainy" class="nd"><rect x="708" y="634.25" width="72" height="48"/><text x="744" y="663.75">rainy</text></g>
<g id="d4b3-rainy" class="nd"><rect x="812" y="634.25" width="72" height="48"/><text x="848" y="663.75">rainy</text></g>
<g id="d4b3-cloudy" class="nd"><rect x="908" y="634.25" width="72" height="48"/><text x="944" y="663.75">cloudy</text></g>
<g id="d4b3-sunny" class="nd"><rect x="1004" y="634.25" width="72" height="48"/><text x="1040" y="663.75">sunny</text></g>
<g id="d4b2-sunny" class="nd"><rect x="1108" y="634.25" width="72" height="48"/><text x="1144" y="663.75">sunny</text></g>
<g id="d4b2-cloudy" class="nd"><rect x="1204" y="634.25" width="72" height="48"/><text x="1240" y="663.75">cloudy</text></g>
<g id="d4b2-rainy" class="nd"><rect x="1300" y="634.25" width="72" height="48"/><text x="1336" y="663.75">rainy</text></g>
<g id="d4b1-rainy" class="nd"><rect x="1404" y="634.25" width="72" height="48"/><text x="1440" y="663.75">rainy</text></g>
<g id="d4b1-cloudy" class="nd"><rect x="1500" y="634.25" width="72" height="48"/><text x="1536" y="663.75">cloudy</text></g>
<g id="d4b1-sunny" class="nd"><rect x="1596" y="634.25" width="72" height="48"/><text x="1632" y="663.75">sunny</text></g>
<g id="d5b5-rainy" class="nd"><rect x="420" y="797" width="72" height="48"/><text x="456" y="826.5">rainy</text></g>
<g id="d5b5-cloudy" class="nd"><rect x="516" y="797" width="72" height="48"/><text x="552" y="826.5">cloudy</text></g>
<g id="d5b5-sunny" class="nd"><rect x="612" y="797" width="72" height="48"/><text x="648" y="826.5">sunny</text></g>
<g id="d5b4-sunny" class="nd"><rect x="716" y="797" width="72" height="48"/><text x="752" y="826.5">sunny</text></g>
<g id="d5b4-cloudy" class="nd"><rect x="812" y="797" width="72" height="48"/><text x="848" y="826.5">cloudy</text></g>
<g id="d5b4-rainy" class="nd"><rect x="908" y="797" width="72" height="48"/><text x="944" y="826.5">rainy</text></g>
<g id="d5b3-rainy" class="nd"><rect x="1012" y="797" width="72" height="48"/><text x="1048" y="826.5">rainy</text></g>
<g id="d5b3-cloudy" class="nd"><rect x="1108" y="797" width="72" height="48"/><text x="1144" y="826.5">cloudy</text></g>
<g id="d5b3-sunny" class="nd"><rect x="1204" y="797" width="72" height="48"/><text x="1240" y="826.5">sunny</text></g>
<g id="d5b2-sunny" class="nd"><rect x="1308" y="797" width="72" height="48"/><text x="1344" y="826.5">sunny</text></g>
<g id="d5b2-cloudy" class="nd"><rect x="1404" y="797" width="72" height="48"/><text x="1440" y="826.5">cloudy</text></g>
<g id="d5b2-rainy" class="nd"><rect x="1500" y="797" width="72" height="48"/><text x="1536" y="826.5">rainy</text></g>
<g id="d5b1-rainy" class="nd"><rect x="1604" y="797" width="72" height="48"/><text x="1640" y="826.5">rainy</text></g>
<g id="d5b1-cloudy" class="nd"><rect x="1700" y="797" width="72" height="48"/><text x="1736" y="826.5">cloudy</text></g>
<g id="d5b1-sunny" class="nd"><rect x="1796" y="797" width="72" height="48"/><text x="1832" y="826.5">sunny</text></g>
<g id="d6b6-sunny" class="nd"><rect x="324" y="959.75" width="72" height="48"/><text x="360" y="989.25">sunny</text></g>
<g id="d6b6-cloudy" class="nd"><rect x="420" y="959.75" width="72" height="48"/><text x="456" y="989.25">cloudy</text></g>
<g id="d6b6-rainy" class="nd"><rect x="516" y="959.75" width="72" height="48"/><text x="552" y="989.25">rainy</text></g>
<g id="d6b5-rainy" class="nd"><rect x="620" y="959.75" width="72" height="48"/><text x="656" y="989.25">rainy</text></g>
<g id="d6b5-cloudy" class="nd"><rect x="716" y="959.75" width="72" height="48"/><text x="752" y="989.25">cloudy</text></g>
<g id="d6b5-sunny" class="nd"><rect x="812" y="959.75" width="72" height="48"/><text x="848" y="989.25">sunny</text></g>
<g id="d6b4-sunny" class="nd"><rect x="916" y="959.75" width="72" height="48"/><text x="952" y="989.25">sunny</text></g>
<g id="d6b4-cloudy" class="nd"><rect x="1012" y="959.75" width="72" height="48"/><text x="1048" y="989.25">cloudy</text></g>
<g id="d6b4-rainy" class="nd"><rect x="1108" y="959.75" width="72" height="48"/><text x="1144" y="989.25">rainy</text></g>
<g id="d6b3-rainy" class="nd"><rect x="1212" y="959.75" width="72" height="48"/><text x="1248" y="989.25">rainy</text></g>
<g id="d6b3-cloudy" class="nd"><rect x="1308" y="959.75" width="72" height="48"/><text x="1344" y="989.25">cloudy</text></g>
<g id="d6b3-sunny" class="nd"><rect x="1404" y="959.75" width="72" height="48"/><text x="1440" y="989.25">sunny</text></g>
<g id="d6b2-sunny" class="nd"><rect x="1508" y="959.75" width="72" height="48"/><text x="1544" y="989.25">sunny</text></g>
<g id="d6b2-cloudy" class="nd"><rect x="1604" y="959.75" width="72" height="48"/><text x="1640" y="989.25">cloudy</text></g>
<g id="d6b2-rainy" class="nd"><rect x="1700" y="959.75" width="72" height="48"/><text x="1736" y="989.25">rainy</text></g>
<g id="d6b1-rainy" class="nd"><rect x="1804" y="959.75" width="72" height="48"/><text x="1840" y="989.25">rainy</text></g>
<g id="d6b1-cloudy" class="nd"><rect x="1900" y="959.75" width="72" height="48"/><text x="1936" y="989.25">cloudy</text></g>
<g id="d6b1-sunny" class="nd"><rect x="1996" y="959.75" width="72" height="48"/><text x="2032" y="989.25">sunny</text></g>
<g id="d7b7-rainy" class="nd"><rect x="228" y="1122.5" width="72" height="48"/><text x="264" y="1152">rainy</text></g>
<g id="d7b7-cloudy" class="nd"><rect x="324" y="1122.5" width="72" height="48"/><text x="360" y="1152">cloudy</text></g>
<g id="d7b7-sunny" class="nd"><rect x="420" y="1122.5" width="72" height="48"/><text x="456" y="1152">sunny</text></g>
<g id="d7b6-sunny" class="nd"><rect x="524" y="1122.5" width="72" height="48"/><text x="560" y="1152">sunny</text></g>
<g id="d7b6-cloudy" class="nd"><rect x="620" y="1122.5" width="72" height="48"/><text x="656" y="1152">cloudy</text></g>
<g id="d7b6-rainy" class="nd"><rect x="716" y="1122.5" width="72" height="48"/><text x="752" y="1152">rainy</text></g>
<g id="d7b5-rainy" class="nd"><rect x="820" y="1122.5" width="72" height="48"/><text x="856" y="1152">rainy</text></g>
<g id="d7b5-cloudy" class="nd"><rect x="916" y="1122.5" width="72" height="48"/><text x="952" y="1152">cloudy</text></g>
<g id="d7b5-sunny" class="nd"><rect x="1012" y="1122.5" width="72" height="48"/><text x="1048" y="1152">sunny</text></g>
<g id="d7b4-sunny" class="nd"><rect x="1116" y="1122.5" width="72" height="48"/><text x="1152" y="1152">sunny</text></g>
<g id="d7b4-cloudy" class="nd"><rect x="1212" y="1122.5" width="72" height="48"/><text x="1248" y="1152">cloudy</text></g>
<g id="d7b4-rainy" class="nd"><rect x="1308" y="1122.5" width="72" height="48"/><text x="1344" y="1152">rainy</text></g>
<g id="d7b3-rainy" class="nd"><rect x="1412" y="1122.5" width="72" height="48"/><text x="1448" y="1152">rainy</text></g>
<g id="d7b3-cloudy" class="nd"><rect x="1508" y="1122.5" width="72" height="48"/><text x="1544" y="1152">cloudy</text></g>
<g id="d7b3-sunny" class="nd"><rect x="1604" y="1122.5" width="72" height="48"/><text x="1640" y="1152">sunny</text></g>
<g id="d7b2-sunny" class="nd"><rect x="1708" y="1122.5" width="72" height="48"/><text x="1744" y="1152">sunny</text></g>
<g id="d7b2-cloudy" class="nd"><rect x="1804" y="1122.5" width="72" height="48"/><text x="1840" y="1152">cloudy</text></g>
<g id="d7b2-rainy" class="nd"><rect x="1900" y="1122.5" width="72" height="48"/><text x="1936" y="1152">rainy</text></g>
<g id="d7b1-rainy" class="nd"><rect x="2004" y="1122.5" width="72" height="48"/><text x="2040" y="1152">rainy</text></g>
<g id="d7b1-cloudy" class="nd"><rect x="2100" y="1122.5" width="72" height="48"/><text x="2136" y="1152">cloudy</text></g>
<g id="d7b1-sunny" class="nd"><rect x="2196" y="1122.5" width="72" height="48"/><text x="2232" y="1152">sunny</text></g>
<g id="d8b8-sunny" class="nd"><rect x="132" y="1285.25" width="72" height="48"/><text x="168" y="1314.75">sunny</text></g>
<g id="d8b8-cloudy" class="nd"><rect x="228" y="1285.25" width="72" height="48"/><text x="264" y="1314.75">cloudy</text></g>
<g id="d8b8-rainy" class="nd"><rect x="324" y="1285.25" width="72" height="48"/><text x="360" y="1314.75">rainy</text></g>
<g id="d8b7-rainy" class="nd"><rect x="428" y="1285.25" width="72" height="48"/><text x="464" y="1314.75">rainy</text></g>
<g id="d8b7-cloudy" class="nd"><rect x="524" y="1285.25" width="72" height="48"/><text x="560" y="1314.75">cloudy</text></g>
<g id="d8b7-sunny" class="nd"><rect x="620" y="1285.25" width="72" height="48"/><text x="656" y="1314.75">sunny</text></g>
<g id="d8b6-sunny" class="nd"><rect x="724" y="1285.25" width="72" height="48"/><text x="760" y="1314.75">sunny</text></g>
<g id="d8b6-cloudy" class="nd"><rect x="820" y="1285.25" width="72" height="48"/><text x="856" y="1314.75">cloudy</text></g>
<g id="d8b6-rainy" class="nd"><rect x="916" y="1285.25" width="72" height="48"/><text x="952" y="1314.75">rainy</text></g>
<g id="d8b5-rainy" class="nd"><rect x="1020" y="1285.25" width="72" height="48"/><text x="1056" y="1314.75">rainy</text></g>
<g id="d8b5-cloudy" class="nd"><rect x="1116" y="1285.25" width="72" height="48"/><text x="1152" y="1314.75">cloudy</text></g>
<g id="d8b5-sunny" class="nd"><rect x="1212" y="1285.25" width="72" height="48"/><text x="1248" y="1314.75">sunny</text></g>
<g id="d8b4-sunny" class="nd"><rect x="1316" y="1285.25" width="72" height="48"/><text x="1352" y="1314.75">sunny</text></g>
<g id="d8b4-cloudy" class="nd"><rect x="1412" y="1285.25" width="72" height="48"/><text x="1448" y="1314.75">cloudy</text></g>
<g id="d8b4-rainy" class="nd"><rect x="1508" y="1285.25" width="72" height="48"/><text x="1544" y="1314.75">rainy</text></g>
<g id="d8b3-rainy" class="nd"><rect x="1612" y="1285.25" width="72" height="48"/><text x="1648" y="1314.75">rainy</text></g>
<g id="d8b3-cloudy" class="nd"><rect x="1708" y="1285.25" width="72" height="48"/><text x="1744" y="1314.75">cloudy</text></g>
<g id="d8b3-sunny" class="nd"><rect x="1804" y="1285.25" width="72" height="48"/><text x="1840" y="1314.75">sunny</text></g>
<g id="d8b2-sunny" class="nd"><rect x="1908" y="1285.25" width="72" height="48"/><text x="1944" y="1314.75">sunny</text></g>
<g id="d8b2-cloudy" class="nd"><rect x="2004" y="1285.25" width="72" height="48"/><text x="2040" y="1314.75">cloudy</text></g>
<g id="d8b2-rainy" class="nd"><rect x="2100" y="1285.25" width="72" height="48"/><text x="2136" y="1314.75">rainy</text></g>
<g id="d8b1-rainy" class="nd"><rect x="2204" y="1285.25" width="72" height="48"/><text x="2240" y="1314.75">rainy</text></g>
<g id="d8b1-cloudy" class="nd"><rect x="2300" y="1285.25" width="72" height="48"/><text x="2336" y="1314.75">cloudy</text></g>
<g id="d8b1-sunny" class="nd"><rect x="2396" y="1285.25" width="72" height="48"/><text x="2432" y="1314.75">sunny</text></g>
<g id="d9b9-rainy" class="nd"><rect x="36" y="1448" width="72" height="48"/><text x="72" y="1477.5">rainy</text></g>
<g id="d9b9-cloudy" class="nd"><rect x="132" y="1448" width="72" height="48"/><text x="168" y="1477.5">cloudy</text></g>
<g id="d9b9-sunny" class="nd"><rect x="228" y="1448" width="72" height="48"/><text x="264" y="1477.5">sunny</text></g>
<g id="d9b8-sunny" class="nd"><rect x="332" y="1448" width="72" height="48"/><text x="368" y="1477.5">sunny</text></g>
<g id="d9b8-cloudy" class="nd"><rect x="428" y="1448" width="72" height="48"/><text x="464" y="1477.5">cloudy</text></g>
<g id="d9b8-rainy" class="nd"><rect x="524" y="1448" width="72" height="48"/><text x="560" y="1477.5">rainy</text></g>
<g id="d9b7-rainy" class="nd"><rect x="628" y="1448" width="72" height="48"/><text x="664" y="1477.5">rainy</text></g>
<g id="d9b7-cloudy" class="nd"><rect x="724" y="1448" width="72" height="48"/><text x="760" y="1477.5">cloudy</text></g>
<g id="d9b7-sunny" class="nd"><rect x="820" y="1448" width="72" height="48"/><text x="856" y="1477.5">sunny</text></g>
<g id="d9b6-sunny" class="nd"><rect x="924" y="1448" width="72" height="48"/><text x="960" y="1477.5">sunny</text></g>
<g id="d9b6-cloudy" class="nd"><rect x="1020" y="1448" width="72" height="48"/><text x="1056" y="1477.5">cloudy</text></g>
<g id="d9b6-rainy" class="nd"><rect x="1116" y="1448" width="72" height="48"/><text x="1152" y="1477.5">rainy</text></g>
<g id="d9b5-rainy" class="nd"><rect x="1220" y="1448" width="72" height="48"/><text x="1256" y="1477.5">rainy</text></g>
<g id="d9b5-cloudy" class="nd"><rect x="1316" y="1448" width="72" height="48"/><text x="1352" y="1477.5">cloudy</text></g>
<g id="d9b5-sunny" class="nd"><rect x="1412" y="1448" width="72" height="48"/><text x="1448" y="1477.5">sunny</text></g>
<g id="d9b4-sunny" class="nd"><rect x="1516" y="1448" width="72" height="48"/><text x="1552" y="1477.5">sunny</text></g>
<g id="d9b4-cloudy" class="nd"><rect x="1612" y="1448" width="72" height="48"/><text x="1648" y="1477.5">cloudy</text></g>
<g id="d9b4-rainy" class="nd"><rect x="1708" y="1448" width="72" height="48"/><text x="1744" y="1477.5">rainy</text></g>
<g id="d9b3-rainy" class="nd"><rect x="1812" y="1448" width="72" height="48"/><text x="1848" y="1477.5">rainy</text></g>
<g id="d9b3-cloudy" class="nd"><rect x="1908" y="1448" width="72" height="48"/><text x="1944" y="1477.5">cloudy</text></g>
<g id="d9b3-sunny" class="nd"><rect x="2004" y="1448" width="72" height="48"/><text x="2040" y="1477.5">sunny</text></g>
<g id="d9b2-sunny" class="nd"><rect x="2108" y="1448" width="72" height="48"/><text x="2144" y="1477.5">sunny</text></g>
<g id="d9b2-cloudy" class="nd"><rect x="2204" y="1448" width="72" height="48"/><text x="2240" y="1477.5">cloudy</text></g>
<g id="d9b2-rainy" class="nd"><rect x="2300" y="1448" width="72" height="48"/><text x="2336" y="1477.5">rainy</text></g>
<g id="d9b1-rainy" class="nd"><rect x="2404" y="1448" width="72" height="48"/><text x="2440" y="1477.5">rainy</text></g>
<g id="d9b1-cloudy" class="nd"><rect x="2500" y="1448" width="72" height="48"/><text x="2536" y="1477.5">cloudy</text></g>
<g id="d9b1-sunny" class="nd"><rect x="2596" y="1448" width="72" height="48"/><text x="2632" y="1477.5">sunny</text></g>
<g id="d10-10" class="nd"><polygon points="471.7,1593 554.7,1569 637.7,1593 554.7,1617"/><text x="554.7" y="1598.5">10 blocks</text></g>
<g id="d10-9" class="nd"><polygon points="661,1593 737,1569 813,1593 737,1617"/><text x="737" y="1598.5">9 blocks</text></g>
<g id="d10-8" class="nd"><polygon points="837,1593 913,1569 989,1593 913,1617"/><text x="913" y="1598.5">8 blocks</text></g>
<g id="d10-7" class="nd"><polygon points="1013,1593 1089,1569 1165,1593 1089,1617"/><text x="1089" y="1598.5">7 blocks</text></g>
<g id="d10-6" class="nd"><polygon points="1189,1593 1265,1569 1341,1593 1265,1617"/><text x="1265" y="1598.5">6 blocks</text></g>
<g id="d10-5" class="nd"><polygon points="1365,1593 1441,1569 1517,1593 1441,1617"/><text x="1441" y="1598.5">5 blocks</text></g>
<g id="d10-4" class="nd"><polygon points="1541,1593 1617,1569 1693,1593 1617,1617"/><text x="1617" y="1598.5">4 blocks</text></g>
<g id="d10-3" class="nd"><polygon points="1717,1593 1793,1569 1869,1593 1793,1617"/><text x="1793" y="1598.5">3 blocks</text></g>
<g id="d10-2" class="nd"><polygon points="1893,1593 1969,1569 2045,1593 1969,1617"/><text x="1969" y="1598.5">2 blocks</text></g>
<g id="d10-1" class="nd"><polygon points="2069,1593 2145,1569 2221,1593 2145,1617"/><text x="2145" y="1598.5">1 blocks</text></g>
</g>
</svg>
